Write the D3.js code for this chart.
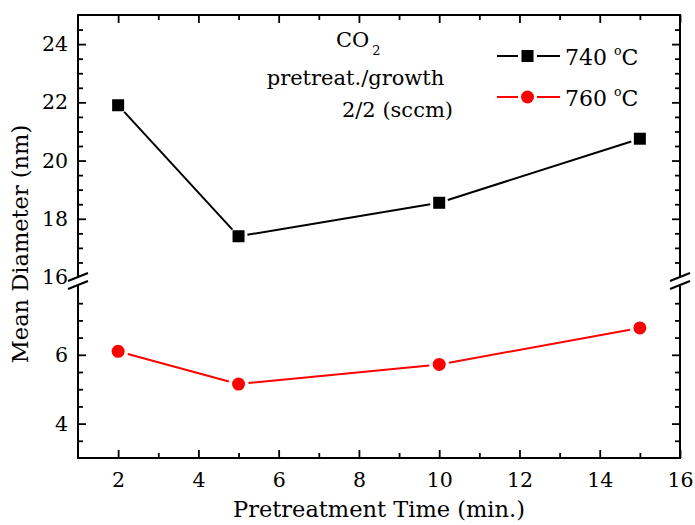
<!DOCTYPE html>
<html>
<head>
<meta charset="utf-8">
<script src="https://cdn.jsdelivr.net/npm/d3@7"></script>
<style>
  html, body { margin: 0; padding: 0; background: #fff; }
  svg { display: block; font-family: "DejaVu Serif", "Liberation Serif", serif; }
</style>
</head>
<body>
<svg id="chart" width="695" height="525"></svg>
<script>
// ---- data ----
const times = [2, 5, 10, 15];
const series740 = [21.9, 17.4, 18.55, 20.75];
const series760 = [6.1, 5.15, 5.72, 6.78];
const seriesNames = ["740", "760"];
const xMajorTicks = [2, 4, 6, 8, 10, 12, 14, 16];
const xMinorTicks = [3, 5, 7, 9, 11, 13, 15];
const yUpperMajor = [18, 20, 22, 24];
const yUpperLabels = [16, 18, 20, 22, 24];
const yUpperMinor = [16.5, 17, 17.5, 18.5, 19, 19.5, 20.5, 21, 21.5, 22.5, 23, 23.5, 24.5];
const yLowerMajor = [4, 6];
const yLowerMinor = [3.5, 4.5, 5, 5.5, 6.5, 7, 7.5];

// ---- layout ----
const L = 78, R = 680, T = 15, B = 458;
const breakTop = 277, breakBot = 286;
const svg = d3.select("#chart");

const x = d3.scaleLinear([1, 16], [L, R]);
const yU = d3.scaleLinear([16, 25], [breakTop, T]);
const yL = d3.scaleLinear([3, 8], [B, breakBot]);

const MAJ = 8, MIN = 5;
const tickFont = 20.5;

function styleAxis(g) {
  g.select(".domain").remove();
  g.selectAll(".tick line").attr("stroke", "#000").attr("stroke-width", 1.8);
  g.selectAll(".tick text").attr("fill", "#000").attr("font-family", "DejaVu Serif")
    .attr("font-size", tickFont);
}

// bottom axis
svg.append("g").attr("transform", `translate(0,${B})`)
  .call(d3.axisBottom(x).tickValues(xMajorTicks).tickSize(-MAJ).tickPadding(14).tickFormat(d3.format("d")))
  .call(styleAxis);
svg.append("g").attr("transform", `translate(0,${B})`)
  .call(d3.axisBottom(x).tickValues(xMinorTicks).tickSize(-MIN).tickFormat(""))
  .call(styleAxis);
// top axis
svg.append("g").attr("transform", `translate(0,${T})`)
  .call(d3.axisTop(x).tickValues(xMajorTicks).tickSize(-MAJ).tickFormat(""))
  .call(styleAxis);
svg.append("g").attr("transform", `translate(0,${T})`)
  .call(d3.axisTop(x).tickValues(xMinorTicks).tickSize(-MIN).tickFormat(""))
  .call(styleAxis);

// left axes
svg.append("g").attr("transform", `translate(${L},0)`)
  .call(d3.axisLeft(yU).tickValues(yUpperMajor).tickSize(-MAJ).tickFormat(""))
  .call(styleAxis);
svg.append("g").attr("transform", `translate(${L},0)`)
  .call(d3.axisLeft(yU).tickValues(yUpperLabels).tickSize(0).tickPadding(10).tickFormat(d3.format("d")))
  .call(styleAxis);
svg.append("g").attr("transform", `translate(${L},0)`)
  .call(d3.axisLeft(yU).tickValues(yUpperMinor).tickSize(-MIN).tickFormat(""))
  .call(styleAxis);
svg.append("g").attr("transform", `translate(${L},0)`)
  .call(d3.axisLeft(yL).tickValues(yLowerMajor).tickSize(-MAJ).tickPadding(10).tickFormat(d3.format("d")))
  .call(styleAxis);
svg.append("g").attr("transform", `translate(${L},0)`)
  .call(d3.axisLeft(yL).tickValues(yLowerMinor).tickSize(-MIN).tickFormat(""))
  .call(styleAxis);
// right axes
[[yU, yUpperMajor, MAJ], [yU, yUpperMinor, MIN], [yL, yLowerMajor, MAJ], [yL, yLowerMinor, MIN]].forEach(([s, v, sz]) => {
  svg.append("g").attr("transform", `translate(${R},0)`)
    .call(d3.axisRight(s).tickValues(v).tickSize(-sz).tickFormat(""))
    .call(styleAxis);
});

// frame
const frame = svg.append("g").attr("stroke", "#000").attr("stroke-width", 2).attr("fill", "none");
frame.append("line").attr("x1", L - 1).attr("x2", R + 1).attr("y1", T).attr("y2", T);
frame.append("line").attr("x1", L - 1).attr("x2", R + 1).attr("y1", B).attr("y2", B);
[L, R].forEach(xx => {
  frame.append("line").attr("x1", xx).attr("x2", xx).attr("y1", T).attr("y2", breakTop);
  frame.append("line").attr("x1", xx).attr("x2", xx).attr("y1", breakBot).attr("y2", B);
  [breakTop, breakBot - 1].forEach(yy => {
    frame.append("line").attr("x1", xx - 10).attr("y1", yy + 4).attr("x2", xx + 10).attr("y2", yy - 4);
  });
});

// axis titles
svg.append("text").attr("x", (L + R) / 2).attr("y", 517).attr("text-anchor", "middle")
  .attr("font-size", 22.5).text("Pretreatment Time (min.)");
svg.append("text").attr("transform", `translate(28,244) rotate(-90)`).attr("text-anchor", "middle")
  .attr("font-size", 22.5).text("Mean Diameter (nm)");

// series drawing with gaps near markers
function drawSeries(vals, yScale, color, gap) {
  const pts = times.map((t, i) => [x(t), yScale(vals[i])]);
  const g = svg.append("g");
  for (let i = 0; i < pts.length - 1; i++) {
    const [x0, y0] = pts[i], [x1, y1] = pts[i + 1];
    const dx = x1 - x0, dy = y1 - y0, len = Math.hypot(dx, dy);
    const ux = dx / len, uy = dy / len;
    g.append("line")
      .attr("x1", x0 + ux * gap).attr("y1", y0 + uy * gap)
      .attr("x2", x1 - ux * gap).attr("y2", y1 - uy * gap)
      .attr("stroke", color).attr("stroke-width", 2);
  }
  return { g, pts };
}
const s1 = drawSeries(series740, yU, "#000", 9);
s1.g.selectAll("rect").data(s1.pts).join("rect")
  .attr("x", d => d[0] - 6).attr("y", d => d[1] - 6).attr("width", 12).attr("height", 12).attr("fill", "#000");
const s2 = drawSeries(series760, yL, "#ff0000", 10);
s2.g.selectAll("circle").data(s2.pts).join("circle")
  .attr("cx", d => d[0]).attr("cy", d => d[1]).attr("r", 6.5).attr("fill", "#ff0000");

// legend
const leg = svg.append("g");
const legRows = [{ name: seriesNames[0], color: "#000", y: 56, shape: "sq" },
                 { name: seriesNames[1], color: "#ff0000", y: 97, shape: "ci" }];
legRows.forEach(r => {
  leg.append("line").attr("x1", 497).attr("x2", 518).attr("y1", r.y).attr("y2", r.y).attr("stroke", r.color).attr("stroke-width", 2);
  leg.append("line").attr("x1", 537).attr("x2", 560).attr("y1", r.y).attr("y2", r.y).attr("stroke", r.color).attr("stroke-width", 2);
  if (r.shape === "sq") leg.append("rect").attr("x", 521.5).attr("y", r.y - 6).attr("width", 12).attr("height", 12).attr("fill", r.color);
  else leg.append("circle").attr("cx", 527.5).attr("cy", r.y).attr("r", 6.5).attr("fill", r.color);
  const t = leg.append("text").attr("x", 565).attr("y", r.y + 9).attr("font-size", 22);
  t.append("tspan").text(r.name + " ");
  t.append("tspan").attr("font-size", 12.5).attr("dy", -10).text("o");
  t.append("tspan").attr("dy", 10).text("C");
});

// annotation
const ann = svg.append("g").attr("font-size", 21);
const co = ann.append("text").attr("x", 336).attr("y", 47);
co.append("tspan").text("CO");
co.append("tspan").attr("font-size", 13).attr("dy", 8).attr("dx", 3).text("2");
ann.append("text").attr("x", 355.5).attr("y", 85).attr("text-anchor", "middle").text("pretreat./growth");
ann.append("text").attr("x", 453).attr("y", 117).attr("text-anchor", "end").text("2/2 (sccm)");
</script>
</body>
</html>
